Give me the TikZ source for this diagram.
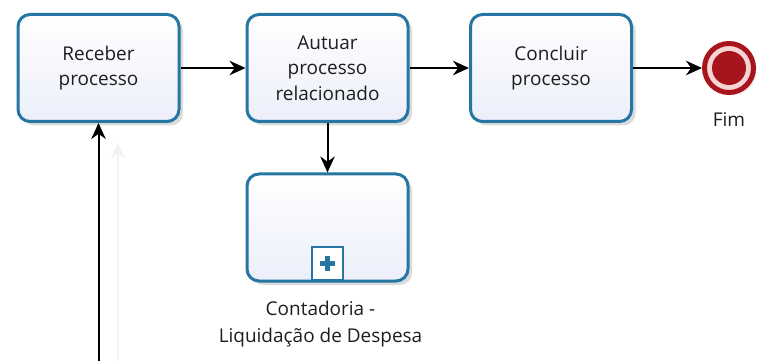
\documentclass[tikz,border=0pt]{standalone}
\usepackage{fontspec}
\setmainfont{Open Sans}
\usetikzlibrary{arrows.meta,shadows,positioning}

\newlength{\du}
\setlength{\du}{0.02cm}

\definecolor{taskline}{RGB}{37,118,163}
\definecolor{taskfill}{RGB}{236,239,250}
\definecolor{endred}{RGB}{168,20,28}
\definecolor{endpink}{RGB}{247,212,212}
\definecolor{labelgray}{RGB}{30,30,30}

\tikzset{
  task/.style={draw=taskline, line width=3\du, rounded corners=12\du,
    top color=white, bottom color=taskfill,
    minimum width=161\du, minimum height=107\du,
    align=center, text=labelgray, font=\fontsize{10.8}{14.5}\selectfont,
    drop shadow={shadow xshift=4\du, shadow yshift=-4\du, opacity=0.2, fill=black!70}},
  marker/.style={draw=taskline, line width=2.5\du, fill=white,
    minimum width=31\du, minimum height=33\du, inner sep=0pt},
  flow/.style={line width=2\du, -{Stealth[length=3.2mm,width=2.9mm]}},
  caption/.style={align=center, text=labelgray, font=\fontsize{10.8}{15.5}\selectfont},
}

\begin{document}
\begin{tikzpicture}[x=\du, y=-\du]
\useasboundingbox (0,0) rectangle (763,361);

% tasks
\node[task] (receber) at (98.5,68) {Receber\\processo};
\node[task] (autuar) at (327.5,68) {Autuar\\processo\\relacionado};
\node[task] (concluir) at (551,68) {Concluir\\processo};

% collapsed subprocess
\node[task] (contadoria) at (327.5,227.5) {};
\node[marker, anchor=south] (plus) at ([yshift=1.5\du]contadoria.south) {};
\draw[taskline, line width=5\du] ([xshift=-7.5\du]plus.center) -- ([xshift=7.5\du]plus.center);
\draw[taskline, line width=5\du] ([yshift=-7.5\du]plus.center) -- ([yshift=7.5\du]plus.center);
\node[caption, below=12\du of contadoria, xshift=-7\du] (contlabel) {Contadoria -\\Liquidação de Despesa};

% end event
\node[circle, draw=endred, line width=5\du, fill=endpink, minimum size=49\du, inner sep=0pt,
  drop shadow={shadow xshift=3\du, shadow yshift=-3\du, opacity=0.15}] (fim) at (729,68) {};
\fill[endred] (fim.center) circle (17\du);
\node[caption, below=11\du of fim] (fimlabel) {Fim};

% incoming flow
\coordinate (entrada) at (98.5,361);
\coordinate (sombra-a) at (118,361);
\coordinate (sombra-b) at (118,143);
\draw[flow, black!5] (sombra-a) -- (sombra-b);
\draw[flow] (entrada) -- (receber.south);

% sequence flows
\draw[flow] (receber) -- (autuar);
\draw[flow] (autuar) -- (concluir);
\draw[flow] (concluir) -- (fim);
\draw[flow] (autuar) -- (contadoria);
\end{tikzpicture}
\end{document}
